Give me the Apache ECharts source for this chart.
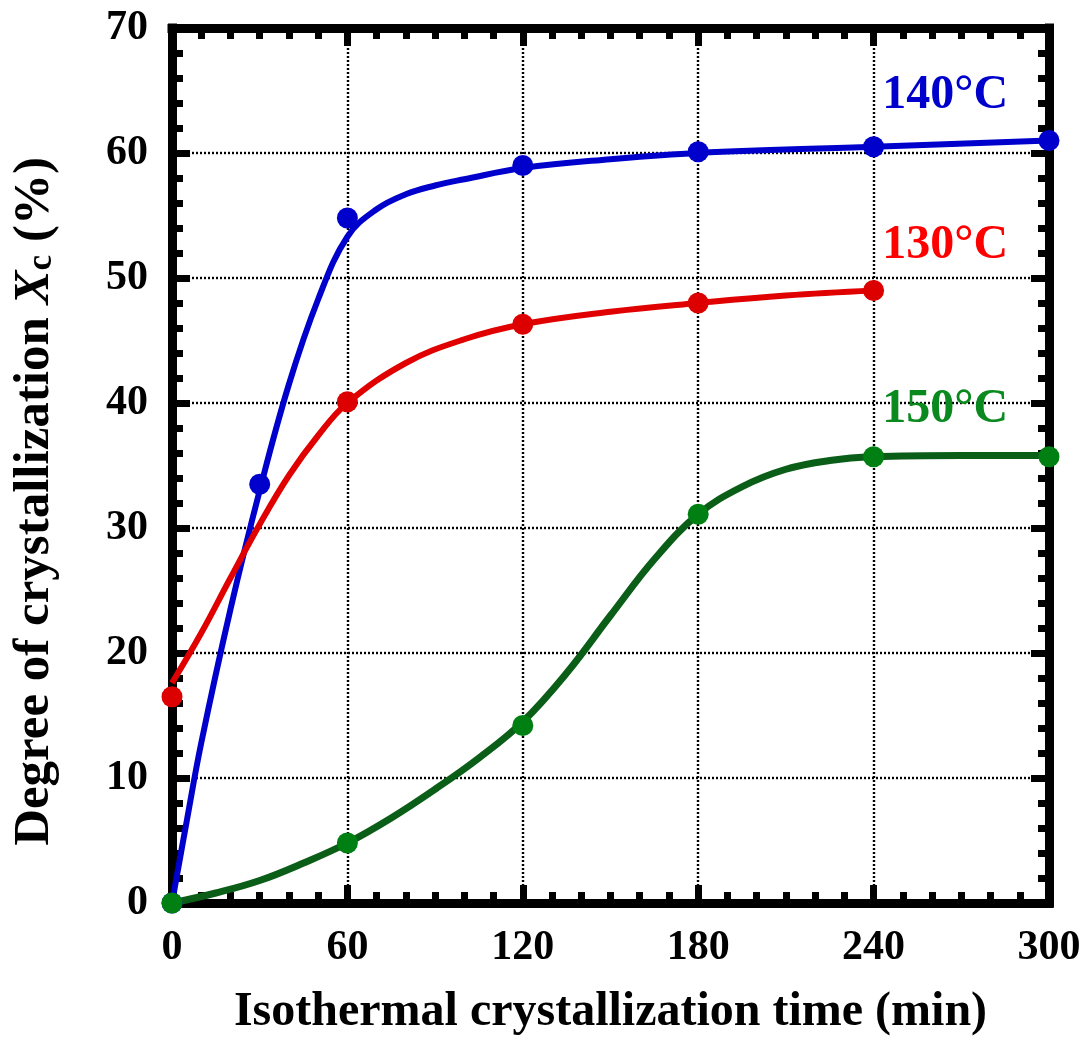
<!DOCTYPE html>
<html>
<head>
<meta charset="utf-8">
<script src="https://cdn.jsdelivr.net/npm/echarts@6/dist/echarts.min.js"></script>
<style>
html,body{margin:0;padding:0;background:#fff;}
#chart{width:1087px;height:1045px;}
</style>
</head>
<body>
<div id="chart"></div>
<script>
// ---- Data ----
const xTicks = [0, 60, 120, 180, 240, 300];
const yTicks = [0, 10, 20, 30, 40, 50, 60, 70];

// measured points
const ptTime140 = [0, 30, 60, 120, 180, 240, 300];
const ptXc140   = [0, 33.5, 54.8, 59.0, 60.1, 60.5, 61.0];
const ptTime130 = [0, 60, 120, 180, 240];
const ptXc130   = [16.5, 40.1, 46.3, 48.0, 49.0];
const ptTime150 = [0, 60, 120, 180, 240, 300];
const ptXc150   = [0, 4.8, 14.2, 31.1, 35.7, 35.7];

// fitted curves
const fitTime140 = [0, 5, 10, 20, 30, 40, 50, 60, 70, 80, 90, 100, 120, 150, 180, 240, 300];
const fitXc140   = [0, 6.5, 12.8, 23.5, 33.0, 41.5, 48.3, 53.3, 55.5, 56.7, 57.4, 57.9, 58.8, 59.5, 60.0, 60.5, 61.0];
const fitTime130 = [0, 10, 20, 30, 40, 50, 60, 80, 100, 120, 150, 180, 210, 240];
const fitXc130   = [17.6, 21.6, 26.0, 30.3, 34.2, 37.4, 40.0, 43.2, 45.1, 46.3, 47.3, 48.0, 48.6, 49.0];
const fitTime150 = [0, 15, 30, 45, 60, 75, 90, 105, 120, 135, 150, 165, 180, 195, 210, 225, 240, 270, 300];
const fitXc150   = [0, 0.8, 1.8, 3.2, 4.8, 6.8, 9.1, 11.6, 14.5, 18.4, 23.0, 27.5, 31.1, 33.3, 34.7, 35.4, 35.7, 35.8, 35.8];

const seriesNames = ['140°C', '130°C', '150°C'];
const labelAnchors = [[264.5, 64.6], [264.5, 52.6], [264.5, 39.5]];

const xTitle = 'Isothermal crystallization time (min)';
const yTitleParts = ['Degree of crystallization ', 'X', 'c', ' (%)'];

// ---- Chart ----
const FONT = "'Liberation Serif','Times New Roman',serif";
const zip = (a, b) => a.map((v, i) => [v, b[i]]);

const frameLine = { show: true, onZero: false, lineStyle: { color: '#000', width: 9, cap: 'square' } };
const majorTick = { show: true, inside: true, length: 18, lineStyle: { color: '#000', width: 7 } };
const gridLine = { show: true, lineStyle: { color: '#000', width: 2.4, type: [2, 2] } };

function xAxisCfg(pos, main) {
  return {
    type: 'value', position: pos, min: 0, max: 300, interval: 60,
    axisLine: frameLine,
    axisTick: majorTick,
    minorTick: { show: true, splitNumber: 6, length: 11, lineStyle: { color: '#000', width: 7 } },
    axisLabel: main ? {
      show: true, margin: 24, color: '#000', fontFamily: FONT, fontWeight: 'bold', fontSize: 42,
      formatter: v => (xTicks.indexOf(v) >= 0 ? String(v) : '')
    } : { show: false },
    splitLine: main ? gridLine : { show: false },
    minorSplitLine: { show: false },
    name: main ? xTitle : '',
    nameLocation: 'middle', nameGap: 86,
    nameTextStyle: { color: '#000', fontFamily: FONT, fontWeight: 'bold', fontSize: 48 }
  };
}
function yAxisCfg(pos, main) {
  return {
    type: 'value', position: pos, min: 0, max: 70, interval: 10,
    axisLine: frameLine,
    axisTick: majorTick,
    minorTick: { show: true, splitNumber: 5, length: 11, lineStyle: { color: '#000', width: 7 } },
    axisLabel: main ? {
      show: true, margin: 24, color: '#000', fontFamily: FONT, fontWeight: 'bold', fontSize: 42,
      formatter: v => (yTicks.indexOf(v) >= 0 ? String(v) : '')
    } : { show: false },
    splitLine: main ? gridLine : { show: false },
    name: main ? ('{a|' + yTitleParts[0] + '}{i|' + yTitleParts[1] + '}{s|' + yTitleParts[2] + '}{a|' + yTitleParts[3] + '}') : '',
    nameLocation: 'middle', nameGap: 112, nameRotate: 90,
    nameTextStyle: {
      color: '#000', fontFamily: FONT, fontWeight: 'bold', fontSize: 51,
      padding: [0, 72, 0, 0],
      rich: {
        a: { fontFamily: FONT, fontWeight: 'bold', fontSize: 51, color: '#000' },
        i: { fontFamily: FONT, fontWeight: 'bold', fontStyle: 'italic', fontSize: 51, color: '#000' },
        s: { fontFamily: FONT, fontWeight: 'bold', fontSize: 35, color: '#000', padding: [15, 0, 0, 0] }
      }
    }
  };
}

const colors = {
  line: ['#0000cc', '#e00000', '#0b5e17'],
  mark: ['#0000cc', '#dd0000', '#008012'],
  text: ['#0000cc', '#ff0000', '#0a8a1e']
};
const fits = [zip(fitTime140, fitXc140), zip(fitTime130, fitXc130), zip(fitTime150, fitXc150)];
const pts = [zip(ptTime140, ptXc140), zip(ptTime130, ptXc130), zip(ptTime150, ptXc150)];

const series = [];
for (let k = 0; k < 3; k++) {
  series.push({
    name: seriesNames[k] + ' fit', type: 'line', data: fits[k], smooth: 0.4, showSymbol: false,
    lineStyle: { color: colors.line[k], width: k === 2 ? 7 : 6, opacity: 1 }, silent: true, z: 3
  });
  series.push({
    name: seriesNames[k], type: 'scatter', data: pts[k], symbol: 'circle', symbolSize: 21,
    itemStyle: { color: colors.mark[k], opacity: 1 }, silent: true, z: 4
  });
  series.push({
    name: seriesNames[k] + ' label', type: 'scatter', data: [labelAnchors[k]], symbolSize: 0, silent: true, z: 5,
    itemStyle: { opacity: 1 },
    label: { show: true, position: 'inside', formatter: seriesNames[k], color: colors.text[k], opacity: 1,
      fontFamily: FONT, fontWeight: 'bold', fontSize: 48 }
  });
}

const chart = echarts.init(document.getElementById('chart'), null, { renderer: 'canvas' });
chart.setOption({
  animation: false,
  backgroundColor: '#fff',
  grid: { left: 172, right: 38, top: 28, bottom: 142, containLabel: false },
  xAxis: [xAxisCfg('bottom', true), xAxisCfg('top', false)],
  yAxis: [yAxisCfg('left', true), yAxisCfg('right', false)],
  series: series
});
</script>
</body>
</html>
